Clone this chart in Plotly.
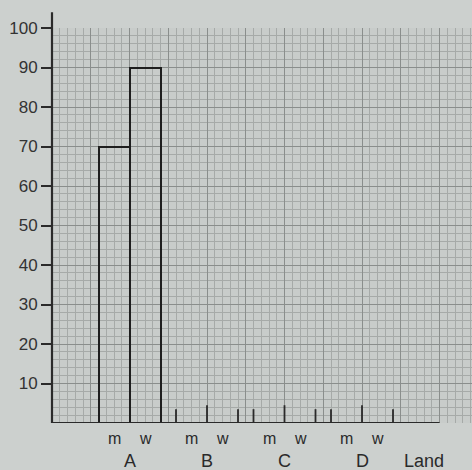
import plotly.graph_objects as go

groups = ["A", "B", "C", "D"]
sexes = ["m", "w"]
men = [70, None, None, None]
women = [90, None, None, None]
axis_title = "Land"
y_ticks = [10, 20, 30, 40, 50, 60, 70, 80, 90, 100]

# layout helpers (cells of graph paper)
group_step = 10
bar_w = 4

def centre(i):
    return group_step * (i + 1)

fig = go.Figure()
xs_m = [centre(i) - bar_w / 2 for i in range(len(groups))]
xs_w = [centre(i) + bar_w / 2 for i in range(len(groups))]
for xs, vals in ((xs_m, men), (xs_w, women)):
    fig.add_trace(go.Bar(
        x=xs, y=vals, width=bar_w,
        marker=dict(color="rgba(0,0,0,0)", line=dict(color="#1e1e1e", width=2)),
        hoverinfo="skip", showlegend=False,
    ))

ink = "#2a2a2a"
shapes = []
shapes.append(dict(type="line", xref="x", yref="y", x0=0, x1=group_step * (len(groups) + 1),
                   y0=0, y1=0, line=dict(color=ink, width=2.2)))
shapes.append(dict(type="line", xref="paper", yref="paper", x0=0, x1=0, y0=0, y1=1.04,
                   line=dict(color=ink, width=2.2)))
for i, g in enumerate(groups):
    if men[i] is None:
        c = centre(i)
        for dx, h in ((-bar_w, 3.5), (0, 4.5), (bar_w, 3.5)):
            shapes.append(dict(type="line", xref="x", yref="y", x0=c + dx, x1=c + dx,
                               y0=0, y1=h, line=dict(color=ink, width=1.8)))

ann = []
for i, g in enumerate(groups):
    c = centre(i)
    for j, s in enumerate(sexes):
        ann.append(dict(x=c + (j - 0.5) * bar_w, y=-0.038, xref="x", yref="paper", text=s,
                        showarrow=False, yanchor="middle", font=dict(size=16, color=ink)))
    ann.append(dict(x=c, y=-0.096, xref="x", yref="paper", text=g, showarrow=False,
                    yanchor="middle", font=dict(size=18, color=ink)))
ann.append(dict(x=group_step * (len(groups) + 0.8), y=-0.096, xref="x", yref="paper",
                text=axis_title, showarrow=False, yanchor="middle", font=dict(size=18, color=ink)))

bg = "#ccd0ce"
fig.update_layout(
    width=472, height=470,
    margin=dict(l=52, r=0, t=28, b=47),
    paper_bgcolor=bg, plot_bgcolor="#c8ccca",
    font=dict(family="Liberation Sans, Arial, sans-serif", color=ink),
    shapes=shapes, annotations=ann, bargap=0,
    xaxis=dict(range=[0, 420 / 7.75], showticklabels=False, ticks="", zeroline=False,
               showline=False, dtick=5, tick0=0, gridcolor="#8a8e8c", gridwidth=1.2,
               minor=dict(dtick=1, gridcolor="#a6aaa8", gridwidth=1, showgrid=True)),
    yaxis=dict(range=[0, 100], tickvals=y_ticks, ticks="outside", ticklen=10, tickwidth=2,
               tickcolor=ink, tickfont=dict(size=17, color="#333"), zeroline=False,
               showline=False, gridcolor="#8a8e8c", gridwidth=1.2,
               minor=dict(dtick=2, gridcolor="#a6aaa8", gridwidth=1, showgrid=True, ticks="")),
)

fig.write_html("out.html", config={"displayModeBar": False},
               post_script="document.body.style.margin='0';document.body.style.background='#ccd0ce';")
